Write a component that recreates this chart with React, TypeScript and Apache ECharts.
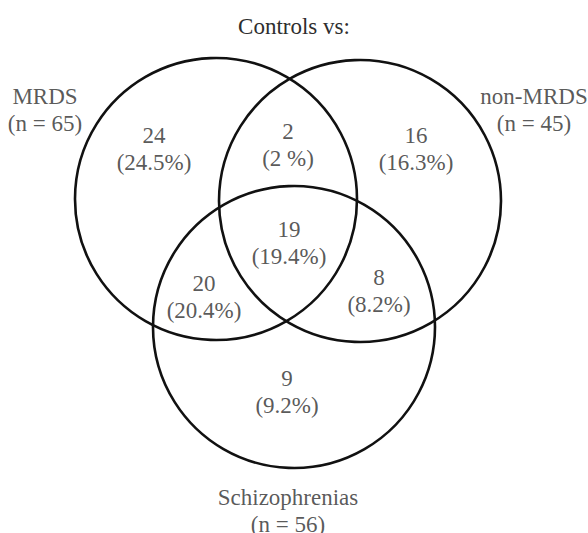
import React, { useEffect, useRef } from "react";
import * as echarts from "echarts";

// Venn sets (diagram units: same scale on both axes)
const setNames = ["MRDS", "non-MRDS", "Schizophrenias"];
const setSizes = [65, 45, 56];
const setCenters: [number, number][] = [
  [216, 199],
  [360, 201],
  [294, 327],
];
const setRadii = [141, 141, 141];
const setLabelAnchors: [number, number][] = [
  [45, 110],
  [534, 110],
  [288, 511],
];

// Venn regions
const regionNames = [
  "MRDS only",
  "MRDS ∩ non-MRDS",
  "non-MRDS only",
  "all three",
  "MRDS ∩ Schizophrenias",
  "non-MRDS ∩ Schizophrenias",
  "Schizophrenias only",
];
const regionCounts = [24, 2, 16, 19, 20, 8, 9];
const regionPercents = ["24.5%", "2 %", "16.3%", "19.4%", "20.4%", "8.2%", "9.2%"];
const regionAnchors: [number, number][] = [
  [154, 149],
  [288, 145],
  [416, 149],
  [289, 243],
  [204, 297],
  [379, 291],
  [287, 392],
];

const titleText = "Controls vs:";

const FONT = "Liberation Serif";
const TEXT_COLOR = "#2e2e2e";

export default function App() {
  const ref = useRef<HTMLDivElement>(null);
  useEffect(() => {
    if (!ref.current) return;
    const chart = echarts.init(ref.current, null, { renderer: "svg" });
    const labelStyle = {
      show: true,
      position: "inside" as const,
      fontFamily: FONT,
      fontSize: 23,
      lineHeight: 27,
      color: TEXT_COLOR,
      align: "center" as const,
      verticalAlign: "middle" as const,
    };
    chart.setOption({
      animation: false,
      backgroundColor: "#fff",
      title: {
        text: titleText,
        left: "center",
        top: 10,
        textStyle: {
          fontFamily: FONT,
          fontSize: 23,
          fontWeight: "normal",
          color: TEXT_COLOR,
        },
      },
      grid: { left: 0, top: 0, width: 588, height: 533 },
      xAxis: { type: "value", min: 0, max: 588, show: false },
      yAxis: { type: "value", min: 0, max: 533, inverse: true, show: false },
      series: [
        {
          type: "custom",
          name: "sets",
          data: setCenters.map((c, i) => [c[0], c[1], setRadii[i]]),
          renderItem: (params: any, api: any) => {
            const p = api.coord([api.value(0), api.value(1)]);
            const r = api.size([api.value(2), 0])[0];
            return {
              type: "circle",
              shape: { cx: p[0], cy: p[1], r },
              style: { fill: "none", stroke: "#111", lineWidth: 2.6 },
            };
          },
          silent: true,
          z: 2,
        },
        {
          type: "scatter",
          name: "set labels",
          symbolSize: 0,
          data: setLabelAnchors.map((a, i) => ({
            value: a,
            name: setNames[i],
            label: { ...labelStyle, formatter: `${setNames[i]}\n(n = ${setSizes[i]})` },
          })),
          silent: true,
          z: 3,
        },
        {
          type: "scatter",
          name: "regions",
          symbolSize: 0,
          data: regionAnchors.map((a, i) => ({
            value: a,
            name: regionNames[i],
            label: { ...labelStyle, formatter: `${regionCounts[i]}\n(${regionPercents[i]})` },
          })),
          silent: true,
          z: 3,
        },
      ],
    });
    return () => chart.dispose();
  }, []);
  return (
    <div
      ref={ref}
      style={{ position: "fixed", left: 0, top: 0, width: 588, height: 533 }}
    />
  );
}
